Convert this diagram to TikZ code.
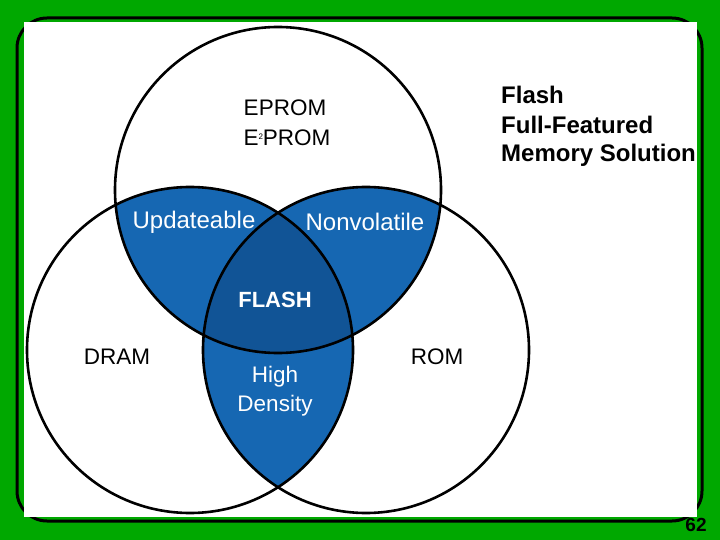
\documentclass[tikz,border=0pt]{standalone}
\usepackage{fontspec}
\setmainfont{Liberation Sans}
\definecolor{bggreen}{RGB}{0,168,0}
\definecolor{lensblue}{RGB}{22,103,178}
\definecolor{coreblue}{RGB}{17,84,150}
\tikzset{
  lbl/.style={font=\fontsize{22.5}{27}\selectfont, inner sep=0pt, anchor=center},
  wlbl/.style={lbl, text=white},
  side/.style={font=\fontsize{24}{29.5}\selectfont\bfseries, inner sep=0pt, anchor=west},
  ring/.style={draw=black, line width=2.6pt}
}
\begin{document}
\begin{tikzpicture}[x=1pt,y=-1pt]
\useasboundingbox (0,0) rectangle (720,540);
\fill[bggreen] (0,0) rectangle (720,540);
\draw[black, line width=3pt, rounded corners=30pt] (17,18) rectangle (702,521);
\fill[white] (24,22) rectangle (697,517);
% coordinates of circle centres
\coordinate (cT) at (278,190);
\coordinate (cL) at (190,350);
\coordinate (cR) at (366,350);
\def\rr{163pt}
% pairwise lenses
\begin{scope}
  \clip (cT) circle[radius=\rr];
  \fill[lensblue] (cL) circle[radius=\rr];
  \fill[lensblue] (cR) circle[radius=\rr];
\end{scope}
\begin{scope}
  \clip (cL) circle[radius=\rr];
  \fill[lensblue] (cR) circle[radius=\rr];
\end{scope}
% triple intersection
\begin{scope}
  \clip (cT) circle[radius=\rr];
  \clip (cL) circle[radius=\rr];
  \fill[coreblue] (cR) circle[radius=\rr];
\end{scope}
% outlines
\draw[ring] (cT) circle[radius=\rr];
\draw[ring] (cL) circle[radius=\rr];
\draw[ring] (cR) circle[radius=\rr];
% labels
\node[lbl] (eprom) at (285,108) {EPROM};
\node[lbl] (e2prom) at (287,138) {E\raisebox{0.55ex}{\fontsize{8}{8}\selectfont 2}PROM};
\node[wlbl, font=\fontsize{24}{27}\selectfont] (upd) at (194,222) {Updateable};
\node[wlbl, font=\fontsize{24}{27}\selectfont] (nonv) at (365,222) {Nonvolatile};
\node[wlbl, font=\fontsize{22}{27}\selectfont\bfseries] (flash) at (275,300) {FLASH};
\node[lbl] (dram) at (117,357) {DRAM};
\node[lbl] (rom) at (437,357) {ROM};
\node[wlbl] (high) at (275,377) {High};
\node[wlbl] (dens) at (275,406) {Density};
\node[side] (s1) at (501,95) {Flash};
\node[side] (s2) at (501,125) {Full-Featured};
\node[side] (s3) at (501,155) {Memory Solution};
\node[font=\fontsize{19}{19}\selectfont\bfseries, inner sep=0pt] (pg) at (696,525) {62};
\end{tikzpicture}
\end{document}
